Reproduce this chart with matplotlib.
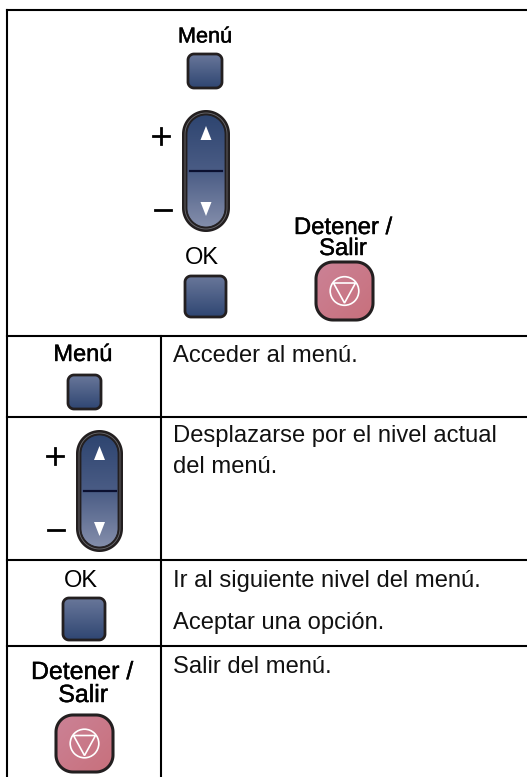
import numpy as np
import matplotlib
matplotlib.use("Agg")
import matplotlib.pyplot as plt
from matplotlib.patches import PathPatch, Polygon, Circle
from matplotlib.path import Path
from matplotlib.colors import LinearSegmentedColormap
import matplotlib.patheffects as pe

W, H = 527, 777
BLUE = LinearSegmentedColormap.from_list("b", ["#69779a", "#2f4672"])
ROCK = LinearSegmentedColormap.from_list("r", ["#2e4570", "#4a5c85", "#848eab"])
RED = LinearSegmentedColormap.from_list("s", ["#cb8296", "#c8707c"])
INK = "#231f20"

row_lines = [10, 336, 417, 560, 646]
descriptions = [
    ("Acceder al menú.", 362),
    ("Desplazarse por el nivel actual", 442),
    ("del menú.", 473),
    ("Ir al siguiente nivel del menú.", 587),
    ("Aceptar una opción.", 629),
    ("Salir del menú.", 673),
]
labels = [
    ("Menú", 205, 37, 15.6, 0.3), ("OK", 202, 258, 17, 0), ("Detener /", 343, 228, 17.2, 0.3), ("Salir", 343, 249, 17.2, 0.3),
    ("Menú", 83, 355, 17, 0.3), ("OK", 81, 581, 17, 0), ("Detener /", 82, 672, 17.9, 0.3), ("Salir", 83, 695, 17.9, 0.3),
]
plain_buttons = [(188, 54, 222, 88), (185, 276, 226, 317), (68, 375, 101, 409), (63, 598, 105, 640)]
stop_buttons = [(316, 262, 373, 320), (56, 715, 113, 772)]
rockers = [(182, 110, 230, 232, 161, 163), (76, 430, 123, 552, 55, 56)]

plt.rcParams["font.family"] = ["Liberation Sans"]
fig = plt.figure(figsize=(W / 100, H / 100), dpi=100)
ax = fig.add_axes([0, 0, 1, 1])
ax.set_xlim(0, W)
ax.set_ylim(H, 0)
ax.axis("off")


def round_path(x0, y0, x1, y1, r):
    pts = []
    for cx, cy, a0 in [(x1 - r, y0 + r, -90), (x1 - r, y1 - r, 0), (x0 + r, y1 - r, 90), (x0 + r, y0 + r, 180)]:
        t = np.radians(np.linspace(a0, a0 + 90, 24))
        pts.append(np.c_[cx + r * np.cos(t), cy + r * np.sin(t)])
    pts = np.vstack(pts + [pts[0][:1]])
    return Path(pts, closed=True)


def grad(box, cmap, r, lw=2.0, angle=False, ec=INK):
    x0, y0, x1, y1 = box
    patch = PathPatch(round_path(x0, y0, x1, y1, r), fc="none", ec=ec, lw=lw, zorder=4)
    ax.add_patch(patch)
    g = np.linspace(0, 1, 128)[:, None]
    if angle:
        g = (np.linspace(0, 1, 128)[:, None] + np.linspace(0, 1, 128)[None, :]) / 2
    im = ax.imshow(g, cmap=cmap, extent=(x0, x1, y1, y0), aspect="auto", zorder=3)
    im.set_clip_path(patch)
    ax.set_xlim(0, W)
    ax.set_ylim(H, 0)


# table frame: the right and bottom edges are cropped off in the source
for y in row_lines:
    ax.plot([7, W], [y, y], color="black", lw=1.5, solid_capstyle="projecting")
ax.plot([7, 7], [10, H], color="black", lw=1.5)
ax.plot([161, 161], [336, H], color="black", lw=1.5)

for text, y in descriptions:
    ax.text(173, y, text, fontsize=17.1, color="#111111", va="baseline", ha="left")
for text, x, y, fs, stroke in labels:
    effects = [pe.withStroke(linewidth=stroke, foreground="black")] if stroke else None
    ax.text(x, y, text, fontsize=fs, color="black", va="center", ha="center", path_effects=effects)

for b in plain_buttons:
    grad(b, BLUE, 6)

for b in stop_buttons:
    grad(b, RED, 17, lw=2.2, angle=True)
    cx, cy = (b[0] + b[2]) / 2, (b[1] + b[3]) / 2
    ax.add_patch(Circle((cx, cy), 14.3, fc="none", ec="white", lw=1.2, zorder=5))
    ax.add_patch(Polygon([(cx - 11, cy - 8), (cx + 11, cy - 8), (cx, cy + 12)],
                         closed=True, fc="none", ec="white", lw=1.2, zorder=5))

for x0, y0, x1, y1, px, mx in rockers:
    r = (x1 - x0) / 2
    ax.add_patch(PathPatch(round_path(x0, y0, x1, y1, r), fc=INK, ec="none", zorder=2))
    ax.add_patch(PathPatch(round_path(x0 + 3, y0 + 3, x1 - 3, y1 - 3, r - 3), fc="none", ec="#6b6b70", lw=0.6, zorder=3))
    grad((x0 + 5, y0 + 5, x1 - 5, y1 - 5), ROCK, r - 5, lw=0.6)
    cx = (x0 + x1) / 2
    cy = (y0 + y1) / 2
    ax.plot([cx - 16, cx + 16], [cy, cy], color="#0b1030", lw=1.6, zorder=5)
    ut, dt = y0 + 24, y1 - 24
    ax.add_patch(Polygon([(cx, ut - 8), (cx - 5.5, ut + 6), (cx + 5.5, ut + 6)], fc="white", ec="none", zorder=5))
    ax.add_patch(Polygon([(cx, dt + 8), (cx - 5.5, dt - 6), (cx + 5.5, dt - 6)], fc="white", ec="none", zorder=5))
    ax.plot([px - 8, px + 8], [y0 + 26, y0 + 26], color="black", lw=2.0, zorder=5)
    ax.plot([px, px], [y0 + 18, y0 + 34], color="black", lw=2.0, zorder=5)
    ax.plot([mx - 8, mx + 8], [y0 + 100, y0 + 100], color="black", lw=2.0, zorder=5)

fig.savefig("out.png", dpi=100, facecolor="white")
